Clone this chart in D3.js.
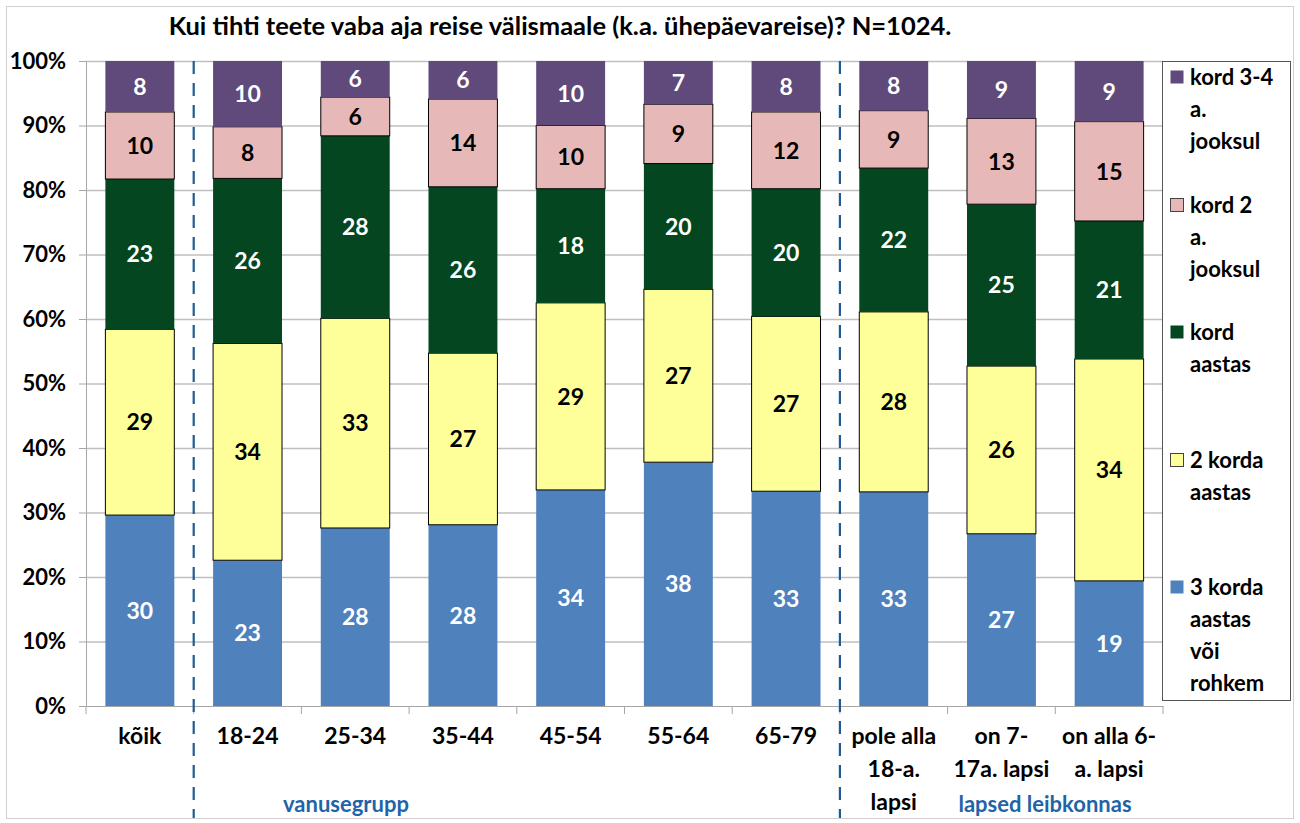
<!DOCTYPE html>
<html><head><meta charset="utf-8">
<script src="https://cdn.jsdelivr.net/npm/d3@7"></script>
<style>body{margin:0;background:#fff;} text{font-family:Lato,"Open Sans",sans-serif;font-weight:bold;}</style>
</head><body>
<svg id="c" width="1300" height="823"></svg>
<script>
const categories = ["kõik","18-24","25-34","35-44","45-54","55-64","65-79","pole alla 18-a. lapsi","on 7-17a. lapsi","on alla 6-a. lapsi"];
const categoryLines = [["kõik"],["18-24"],["25-34"],["35-44"],["45-54"],["55-64"],["65-79"],["pole alla","18-a.","lapsi"],["on 7-","17a. lapsi"],["on alla 6-","a. lapsi"]];
const seriesNames = ["3 korda aastas või rohkem","2 korda aastas","kord aastas","kord 2 a. jooksul","kord 3-4 a. jooksul"];
const legendLines = [["3 korda","aastas","või","rohkem"],["2 korda","aastas"],["kord","aastas"],["kord 2","a.","jooksul"],["kord 3-4","a.","jooksul"]];
const s3korda = [29.6,22.6,27.6,28.1,33.5,37.8,33.3,33.2,26.7,19.4];
const s2korda = [28.8,33.6,32.5,26.6,29.0,26.8,27.1,27.9,26.0,34.4];
const sKord   = [23.3,25.6,28.3,25.8,17.7,19.5,19.8,22.3,25.1,21.4];
const sKord2a = [10.4,8.0,6.0,13.6,9.8,9.2,11.9,8.9,13.3,15.4];
const sKord34 = [7.9,10.2,5.6,5.9,10.0,6.7,7.9,7.7,8.9,9.4];
const yTicks = [0,10,20,30,40,50,60,70,80,90,100];
const groups = ["vanusegrupp","lapsed leibkonnas"];
const title = "Kui tihti teete vaba aja reise välismaale (k.a. ühepäevareise)? N=1024.";

const colors = ["#4F81BD","#FFFF99","#03461F","#E6B9B8","#604A7B"];
const labelColors = ["#fff","#000","#fff","#000","#fff"];
const outlined = [false,true,false,true,false];
const seriesData = [s3korda,s2korda,sKord,sKord2a,sKord34];

const svg = d3.select("#c");
svg.append("rect").attr("x",6.5).attr("y",6.5).attr("width",1287).attr("height",812).attr("fill","none").attr("stroke","#d0d0d0");

const L=86, R=1163, T=61, B=706;
const x = d3.scaleBand().domain(categories).range([L,R]).paddingInner(0.36).paddingOuter(0.18);
const xb = d3.scaleBand().domain(categories).range([L,R]);
const y = d3.scaleLinear().domain([0,100]).range([B,T]);

svg.append("g").selectAll("line").data(yTicks.filter(d=>d>0)).join("line")
  .attr("x1",L).attr("x2",R).attr("y1",d=>y(d)+0.5).attr("y2",d=>y(d)+0.5)
  .attr("stroke","#bfbfbf").attr("stroke-width",1.5);

const ya = svg.append("g").attr("transform",`translate(${L},0)`)
  .call(d3.axisLeft(y).tickValues(yTicks).tickFormat(d=>d+"%").tickSize(7).tickPadding(13));
ya.select(".domain").attr("stroke","#a6a6a6");
ya.selectAll(".tick line").attr("stroke","#a6a6a6");
ya.selectAll(".tick text").attr("font-size",22).attr("fill","#000").attr("font-family","Lato").attr("font-weight","bold");

const xa = svg.append("g").attr("transform",`translate(0,${B})`)
  .call(d3.axisBottom(xb).tickSize(0).tickFormat(""));
xa.select(".domain").attr("stroke","#a6a6a6");
svg.append("g").selectAll("line").data(d3.range(categories.length+1)).join("line")
  .attr("x1",i=>L+i*xb.step()).attr("x2",i=>L+i*xb.step()).attr("y1",B).attr("y2",B+8)
  .attr("stroke","#a6a6a6");

const table = categories.map((c,i)=>{const o={cat:c}; seriesNames.forEach((s,j)=>o[s]=seriesData[j][i]); return o;});
const stack = d3.stack().keys(seriesNames)(table);

const sg = svg.append("g").selectAll("g").data(stack).join("g");
sg.selectAll("rect").data((d,j)=>d.map(p=>({p,j}))).join("rect")
  .attr("x",d=>x(d.p.data.cat)).attr("width",x.bandwidth())
  .attr("y",d=>y(d.p[1])).attr("height",d=>y(d.p[0])-y(d.p[1]))
  .attr("fill",d=>colors[d.j])
  .attr("stroke",d=>outlined[d.j]?"#000":"none").attr("stroke-width",1);

sg.selectAll("text").data((d,j)=>d.map(p=>({p,j,k:d.key}))).join("text")
  .attr("x",d=>x(d.p.data.cat)+x.bandwidth()/2)
  .attr("y",d=>(y(d.p[0])+y(d.p[1]))/2)
  .attr("dy","0.36em").attr("text-anchor","middle").attr("font-size",23)
  .attr("fill",d=>labelColors[d.j])
  .text(d=>Math.round(d.p.data[d.k]));

const cl = svg.append("g").selectAll("text").data(categories).join("text")
  .attr("text-anchor","middle").attr("font-size",23).attr("fill","#000")
  .attr("x",d=>xb(d)+xb.bandwidth()/2).attr("y",744);
cl.selectAll("tspan").data((d,i)=>categoryLines[i]).join("tspan")
  .attr("x",function(){return this.parentNode.getAttribute("x");})
  .attr("dy",(d,i)=>i===0?0:33).text(d=>d);

[1,7].forEach(i=>{
  svg.append("line").attr("x1",L+i*xb.step()).attr("x2",L+i*xb.step()).attr("y1",T).attr("y2",818)
    .attr("stroke","#1F5A96").attr("stroke-width",2.2).attr("stroke-dasharray","13,9");
});

const groupX = [346, 1045];
svg.append("g").selectAll("text").data(groups).join("text")
  .attr("x",(g,i)=>groupX[i]).attr("y",812).attr("text-anchor","middle").attr("font-size",22).attr("fill","#1F64A8")
  .text(g=>g);

svg.append("text").attr("x",560).attr("y",35).attr("text-anchor","middle").attr("font-size",25.5).attr("fill","#000").text(title);

svg.append("rect").attr("x",1162.5).attr("y",61.5).attr("width",128).attr("height",639).attr("fill","#fff").attr("stroke","#555");
const legendOrder = [4,3,2,1,0];
const legendY = [77,205,332,460,587];
const lg = svg.append("g").selectAll("g").data(legendOrder).join("g")
  .attr("transform",(d,i)=>`translate(1170,${legendY[i]})`);
lg.append("rect").attr("x",0.5).attr("y",-6.5).attr("width",13).attr("height",13)
  .attr("fill",d=>colors[d]).attr("stroke",d=>outlined[d]?"#444":"none");
const lt = lg.append("text").attr("x",20).attr("y",0).attr("font-size",22).attr("fill","#000");
lt.selectAll("tspan").data(d=>legendLines[d]).join("tspan").attr("x",20).attr("dy",(d,i)=>i===0?"0.36em":32).text(d=>d);
</script>
</body></html>
